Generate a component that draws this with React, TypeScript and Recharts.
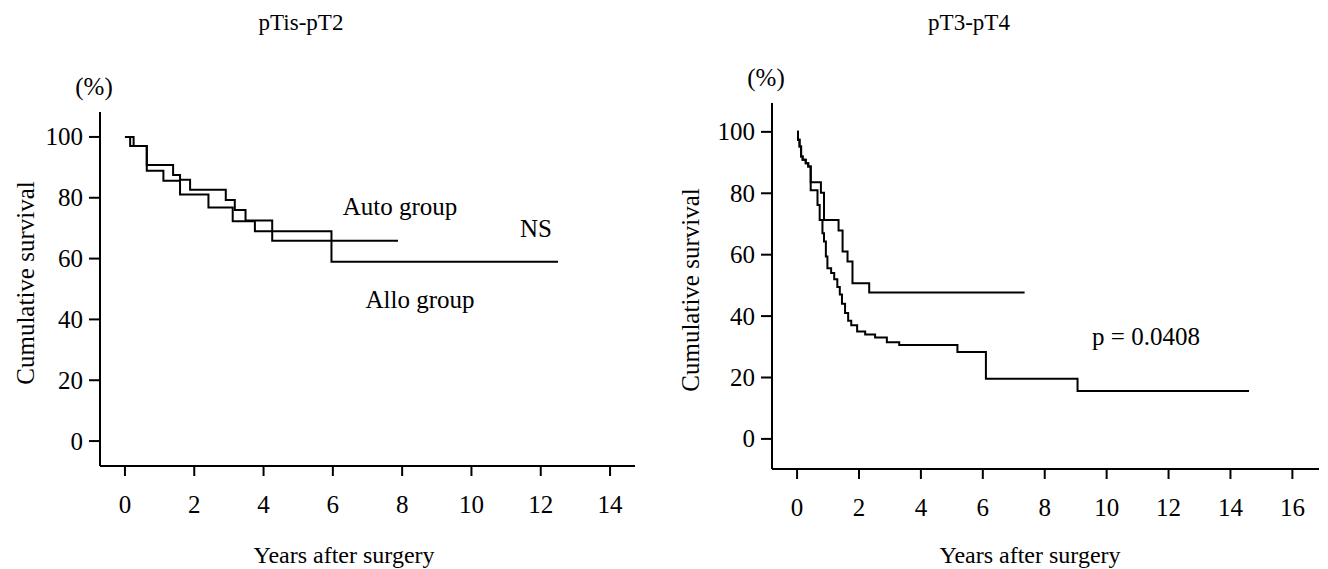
import { LineChart, Line, XAxis, YAxis } from 'recharts';

// pTis-pT2 panel
const leftAutoTime = [0, 0.15, 0.63, 1.39, 1.59, 1.88, 2.91, 3.17, 3.48, 4.25, 7.88];
const leftAutoSurv = [100, 97, 90.8, 87.5, 85.9, 82.6, 79.3, 76.0, 72.5, 65.9, 65.9];
const leftAlloTime = [0, 0.25, 0.63, 1.11, 1.59, 2.41, 3.11, 3.75, 5.96, 12.5];
const leftAlloSurv = [100, 97, 88.9, 85.6, 81.1, 76.8, 72.3, 69.0, 59.0, 59.0];
const leftXTicks = [0, 2, 4, 6, 8, 10, 12, 14];

// pT3-pT4 panel
const rightAutoTime = [0, 0.03, 0.08, 0.13, 0.18, 0.28, 0.36, 0.44, 0.77, 0.87, 1.34, 1.47, 1.63, 1.79, 2.33, 7.35];
const rightAutoSurv = [100, 97.4, 95.2, 92, 90.9, 89.8, 88.7, 83.6, 80.2, 71.3, 67.9, 61.0, 57.8, 50.7, 47.7, 47.7];
const rightAlloTime = [0, 0.03, 0.08, 0.13, 0.18, 0.28, 0.36, 0.44, 0.66, 0.73, 0.82, 0.87, 0.93, 0.98, 1.1, 1.2, 1.3, 1.38, 1.45, 1.55, 1.65, 1.75, 1.94, 2.2, 2.52, 2.9, 3.3, 5.18, 6.1, 9.06, 14.6];
const rightAlloSurv = [100, 97.4, 95.2, 92, 90.9, 89.8, 88.7, 81.0, 76.2, 71.3, 67.0, 64.3, 59.4, 55.6, 54.0, 52.0, 49.5, 47.0, 44.0, 41.0, 38.5, 37.0, 35.0, 34.0, 33.0, 31.5, 30.6, 28.3, 19.6, 15.6, 15.6];
const rightXTicks = [0, 2, 4, 6, 8, 10, 12, 14, 16];

const yTicks = [0, 20, 40, 60, 80, 100];

const serif = '"Liberation Serif", "Times New Roman", serif';

const toSteps = (t: number[], s: number[]) => t.map((x, i) => ({ t: x, s: s[i] }));

const axisStroke = { stroke: '#000', strokeWidth: 2 };

const XTick = (props: any) => (
  <text x={props.x} y={props.y} dy="0.71em" textAnchor="middle" fontFamily={serif} fontSize={25} fill="#000">
    {props.payload.value}
  </text>
);

const YTick = (props: any) => (
  <text x={props.x} y={props.y} dy="0.34em" textAnchor="end" fontFamily={serif} fontSize={25} fill="#000">
    {props.payload.value}
  </text>
);

type PanelProps = {
  left: number;
  width: number;
  yAxisWidth: number;
  top: number;
  bottom: number;
  right: number;
  xDomain: [number, number];
  yDomain: [number, number];
  xTicks: number[];
  auto: { t: number; s: number }[];
  allo: { t: number; s: number }[];
};

const Panel = (p: PanelProps) => (
  <div style={{ position: 'absolute', left: p.left, top: 0 }}>
    <LineChart
      width={p.width}
      height={569}
      margin={{ top: p.top, right: p.right, left: 0, bottom: 0 }}
    >
      <XAxis
        type="number"
        dataKey="t"
        domain={p.xDomain}
        ticks={p.xTicks}
        allowDataOverflow
        height={569 - p.bottom}
        tickSize={10}
        tickMargin={19}
        tick={<XTick />}
        axisLine={axisStroke}
        tickLine={axisStroke}
      />
      <YAxis
        type="number"
        domain={p.yDomain}
        ticks={yTicks}
        allowDataOverflow
        width={p.yAxisWidth}
        tickSize={11}
        tickMargin={6}
        tick={<YTick />}
        axisLine={axisStroke}
        tickLine={axisStroke}
      />
      <Line data={p.auto} dataKey="s" type="stepAfter" stroke="#000" strokeWidth={2} dot={false} isAnimationActive={false} />
      <Line data={p.allo} dataKey="s" type="stepAfter" stroke="#000" strokeWidth={2} dot={false} isAnimationActive={false} />
    </LineChart>
  </div>
);

const Txt = ({ x, y, size, children, rotate }: { x: number; y: number; size: number; children: string; rotate?: boolean }) => (
  <div
    style={{
      position: 'absolute',
      left: x,
      top: y,
      fontSize: size,
      fontFamily: serif,
      lineHeight: 1,
      whiteSpace: 'nowrap',
      color: '#000',
      transform: `translate(-50%, -50%)${rotate ? ' rotate(-90deg)' : ''}`,
    }}
  >
    {children}
  </div>
);

export default function App() {
  return (
    <div style={{ position: 'absolute', left: 0, top: 0, width: 1328, height: 569, background: '#fff', overflow: 'hidden' }}>
      <Panel
        left={0}
        width={660}
        yAxisWidth={100}
        top={112}
        bottom={466}
        right={25}
        xDomain={[-0.72, 14.72]}
        yDomain={[-8.2, 108.2]}
        xTicks={leftXTicks}
        auto={toSteps(leftAutoTime, leftAutoSurv)}
        allo={toSteps(leftAlloTime, leftAlloSurv)}
      />
      <Panel
        left={660}
        width={668}
        yAxisWidth={112}
        top={103}
        bottom={469}
        right={9}
        xDomain={[-0.81, 16.86]}
        yDomain={[-9.8, 109.4]}
        xTicks={rightXTicks}
        auto={toSteps(rightAutoTime, rightAutoSurv)}
        allo={toSteps(rightAlloTime, rightAlloSurv)}
      />

      <Txt x={301} y={22} size={23}>pTis-pT2</Txt>
      <Txt x={969} y={22} size={23}>pT3-pT4</Txt>
      <Txt x={94} y={86} size={25}>(%)</Txt>
      <Txt x={766} y={77} size={25}>(%)</Txt>
      <Txt x={25} y={283} size={25} rotate>Cumulative survival</Txt>
      <Txt x={690} y={290} size={25} rotate>Cumulative survival</Txt>
      <Txt x={344} y={555} size={24}>Years after surgery</Txt>
      <Txt x={1030} y={555} size={24}>Years after surgery</Txt>

      <Txt x={400} y={206} size={25}>Auto group</Txt>
      <Txt x={420} y={299} size={25}>Allo group</Txt>
      <Txt x={536} y={228} size={25}>NS</Txt>
      <Txt x={1146} y={336} size={25}>p = 0.0408</Txt>
    </div>
  );
}
